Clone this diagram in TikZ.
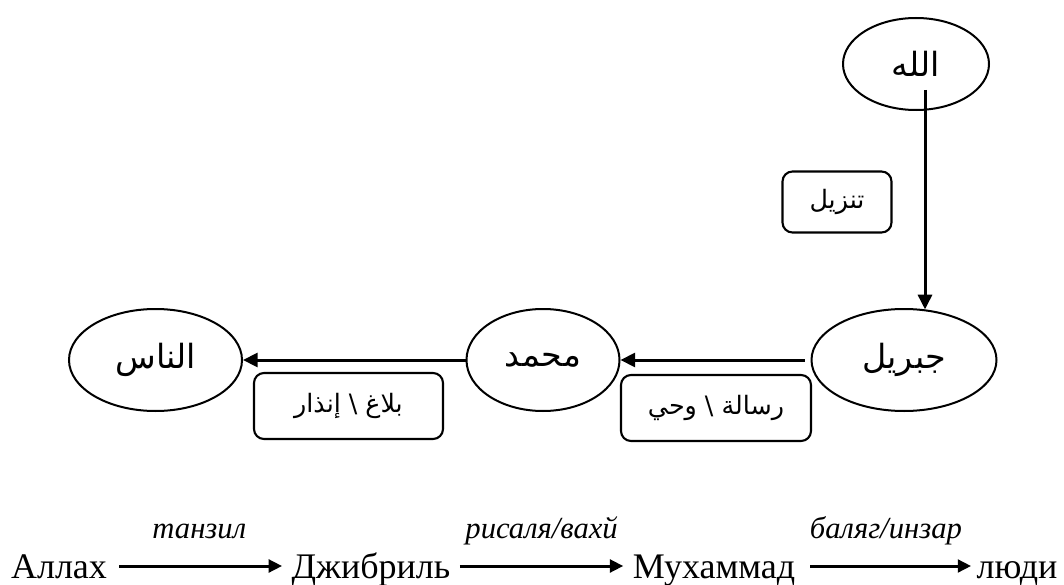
\documentclass[tikz,border=0pt]{standalone}
\usepackage{fontspec}
\setmainfont{Liberation Serif}
\newfontfamily\arabicfont[Script=Arabic]{DejaVu Sans}
\TeXXeTstate=1
\usetikzlibrary{shapes.geometric,arrows.meta}

\begin{document}
\begin{tikzpicture}[x=0.75pt,y=-0.75pt,
  oval/.style={draw, line width=1.5pt, ellipse, inner sep=0pt, font=\arabicfont\fontsize{25}{30}\selectfont},
  lbox/.style={draw, line width=1.6pt, rounded corners=7.5pt, inner sep=0pt, font=\arabicfont\fontsize{19}{23}\selectfont},
  arr/.style={line width=2.25pt, -{Triangle[length=11pt,width=10.5pt]}},
  arrb/.style={line width=2.25pt, -{Triangle[length=10pt,width=9.5pt]}},
  ru/.style={inner sep=0pt, text height=18pt, text depth=0pt, font=\fontsize{27}{32}\selectfont},
  rlab/.style={anchor=base, yshift=21pt, font=\itshape\fontsize{23}{27}\selectfont}]
\useasboundingbox (0,0) rectangle (1064,585);

% top diagram
\node[oval, minimum width=109.5pt, minimum height=69pt] (allah) at (916,64) {\beginR الله\endR};
\node[lbox, minimum width=81.75pt, minimum height=45.75pt] (tanzil) at (837,202) {\beginR تنزيل\endR};
\node[oval, minimum width=138.75pt, minimum height=76.5pt] (jibril) at (904,360) {\beginR جبريل\endR};
\node[oval, minimum width=114.75pt, minimum height=76.5pt] (muhammad) at (543,360) {\beginR محمد\endR};
\node[oval, minimum width=129.75pt, minimum height=76.5pt] (nas) at (155.5,360) {\beginR الناس\endR};
\node[lbox, minimum width=142.5pt, minimum height=49.5pt] (risala) at (716,408) {\beginR رسالة \textbackslash{} وحي\endR};
\node[lbox, minimum width=141.75pt, minimum height=49.5pt] (balagh) at (348.5,406) {\beginR بلاغ \textbackslash{} إنذار\endR};

\coordinate (vtop) at (925,90);
\draw[arr] (vtop) -- (vtop |- jibril.67);
\draw[arr] ([xshift=-4.5pt]jibril.west) -- (muhammad.east);
\draw[arr] (muhammad.west) -- (nas.east);

% bottom row
\node[ru] (ru1) at (59,566) {Аллах};
\node[ru] (ru2) at (371,566) {Джибриль};
\node[ru] (ru3) at (714,566) {Мухаммад};
\node[ru] (ru4) at (1017,566) {люди};

\draw[arrb, shorten <=9pt, shorten >=7pt] (ru1.east) -- node[rlab] {танзил} (ru2.west);
\draw[arrb, shorten <=7pt, shorten >=7pt] (ru2.east) -- node[rlab] {рисаля/вахй} (ru3.west);
\draw[arrb, shorten <=11pt, shorten >=4pt] (ru3.east) -- node[rlab] {баляг/инзар} (ru4.west);
\end{tikzpicture}
\end{document}
